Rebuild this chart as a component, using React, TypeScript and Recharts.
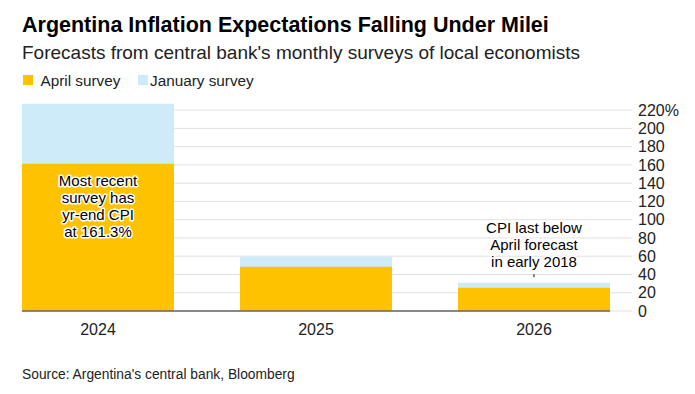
import { BarChart, Bar, XAxis, YAxis, CartesianGrid, ReferenceDot, ReferenceLine } from "recharts";

const years = ["2024", "2025", "2026"];
const aprilSurvey = [161.3, 48.5, 25.5];
const januarySurvey = [227, 59.5, 31];
const yTicks = [0, 20, 40, 60, 80, 100, 120, 140, 160, 180, 200, 220];

const note2024 = ["Most recent", "survey has", "yr-end CPI", "at 161.3%"];
const note2026 = ["CPI last below", "April forecast", "in early 2018"];

const APRIL = "#ffc200";
const JANUARY = "#cdebf9";
const GRID = "#e1e1e1";
const FONT = "'Liberation Sans', Arial, sans-serif";

const rows = years.map((year, i) => ({
  idx: i,
  year,
  april: aprilSurvey[i],
  january: januarySurvey[i],
}));

// multi-line note with a white halo, first line centred on (cx, cy)
function noteShape(lines: string[]) {
  return function Note(props: { cx?: number; cy?: number }) {
    const { cx = 0, cy = 0 } = props;
    return (
      <text
        x={cx}
        y={cy}
        textAnchor="middle"
        fontFamily={FONT}
        fontSize={15}
        fill="#000"
        stroke="#fff"
        strokeWidth={3}
        strokeLinejoin="round"
        style={{ paintOrder: "stroke" }}
      >
        {lines.map((l, i) => (
          <tspan key={i} x={cx} dy={i === 0 ? "0.35em" : 16.8}>
            {l}
          </tspan>
        ))}
      </text>
    );
  };
}

export default function App() {
  return (
    <div
      style={{
        position: "absolute",
        left: 0,
        top: 0,
        width: 695,
        height: 394,
        background: "#fff",
        fontFamily: FONT,
        color: "#000",
      }}
    >
      <div style={{ position: "absolute", left: 22, top: 15, fontSize: 21.5, lineHeight: "21.5px", fontWeight: 700 }}>
        Argentina Inflation Expectations Falling Under Milei
      </div>
      <div style={{ position: "absolute", left: 22, top: 42.5, fontSize: 19, lineHeight: "19px", color: "#222" }}>
        Forecasts from central bank's monthly surveys of local economists
      </div>
      <div style={{ position: "absolute", left: 23, top: 75, width: 10, height: 10, background: APRIL }} />
      <div style={{ position: "absolute", left: 40.5, top: 73, fontSize: 15.3, lineHeight: "15.3px", color: "#222" }}>
        April survey
      </div>
      <div style={{ position: "absolute", left: 138, top: 75, width: 10, height: 10, background: JANUARY }} />
      <div style={{ position: "absolute", left: 150, top: 73, fontSize: 15.3, lineHeight: "15.3px", color: "#222" }}>
        January survey
      </div>

      <div style={{ position: "absolute", left: 0, top: 0 }}>
        <BarChart
          width={695}
          height={345}
          data={rows}
          margin={{ top: 101, right: 0, bottom: 0, left: 22 }}
          barGap={-152}
        >
          <CartesianGrid vertical={false} stroke={GRID} horizontalValues={yTicks} />
          <XAxis
            dataKey="idx"
            type="number"
            domain={[-0.3486, 2.3486]}
            allowDataOverflow
            ticks={[0, 1, 2]}
            interval={0}
            tickFormatter={(v: number) => years[v] ?? ""}
            height={34}
            tickLine={false}
            tickSize={0}
            tickMargin={12.5}
            axisLine={{ stroke: "#666", strokeWidth: 1.5 }}
            tick={{ fontSize: 16, fill: "#222", fontFamily: FONT }}
          />
          <YAxis
            orientation="right"
            width={85}
            domain={[0, 230]}
            ticks={yTicks}
            interval={0}
            allowDataOverflow
            axisLine={false}
            tickLine={{ stroke: GRID }}
            tickSize={22}
            tickMargin={6}
            tickFormatter={(v: number) => (v === 220 ? "220%" : String(v))}
            tick={{ fontSize: 16, fill: "#222", fontFamily: FONT, textAnchor: "start" }}
          />
          <Bar dataKey="january" fill={JANUARY} barSize={152} isAnimationActive={false} />
          <Bar dataKey="april" fill={APRIL} barSize={152} isAnimationActive={false} />
          <ReferenceLine
            segment={[
              { x: 2, y: 40.2 },
              { x: 2, y: 37.2 },
            ]}
            stroke="#000"
            strokeWidth={1}
          />
          <ReferenceDot x={0} y={142.3} r={0} ifOverflow="visible" shape={noteShape(note2024)} />
          <ReferenceDot x={2} y={91.2} r={0} ifOverflow="visible" shape={noteShape(note2026)} />
        </BarChart>
      </div>

      <div style={{ position: "absolute", left: 22, top: 367.6, fontSize: 13.8, lineHeight: "13.8px", color: "#222" }}>
        Source: Argentina's central bank, Bloomberg
      </div>
    </div>
  );
}
